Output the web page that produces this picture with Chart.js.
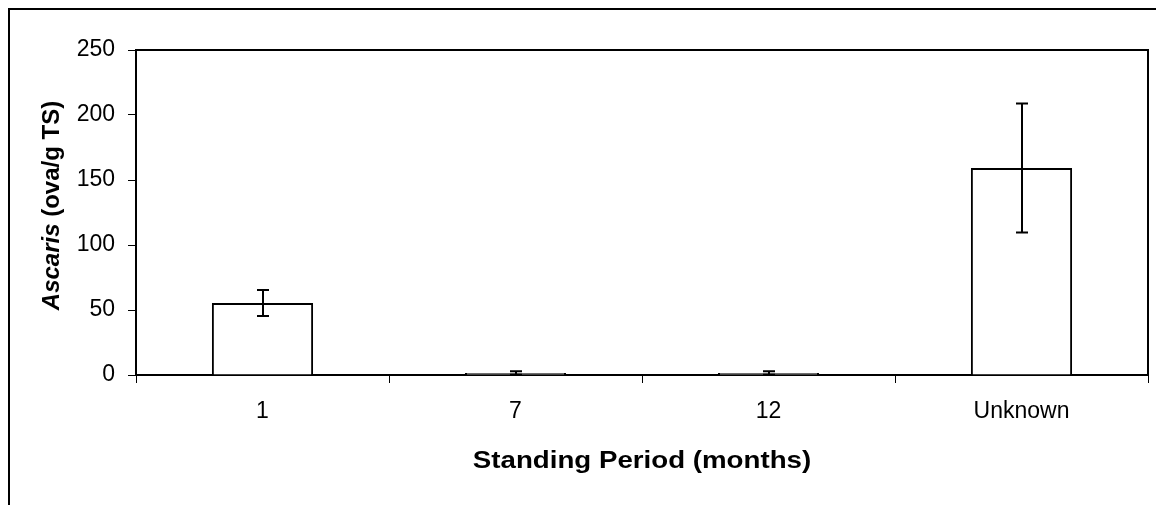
<!DOCTYPE html>
<html>
<head>
<meta charset="utf-8">
<title>Ascaris - Standing Period</title>
<script src="https://cdn.jsdelivr.net/npm/chart.js@4/dist/chart.umd.min.js"></script>
<style>
    html, body { margin: 0; padding: 0; background: #fff; }
    #wrap { width: 1156px; height: 505px; position: relative; }
</style>
</head>
<body>
<div id="wrap"><canvas id="ascarisChart" width="1156" height="505"></canvas></div>
<script>
// Data
const categories = ['1', '7', '12', 'Unknown'];
const ascarisMean = [55.4, 1.5, 1.5, 159.2];
const ascarisErr = [10, 1.3, 1.3, 49.6];
const yTicks = [0, 50, 100, 150, 200, 250];
const xTitle = 'Standing Period (months)';

const FONT = "Arial, 'Liberation Sans', sans-serif";

// outer frame + top/right border of the plot area
const framePlugin = {
    id: 'frame',
    beforeDraw: function(chart) {
        const ctx = chart.ctx;
        ctx.save();
        ctx.strokeStyle = '#000';
        ctx.lineWidth = 2;
        ctx.strokeRect(9, 9, 2000, 2000);
        ctx.restore();
    },
    afterDraw: function(chart) {
        const a = chart.chartArea;
        const ctx = chart.ctx;
        ctx.save();
        ctx.strokeStyle = '#000';
        ctx.lineWidth = 2;
        ctx.beginPath();
        ctx.moveTo(a.left, a.top);
        ctx.lineTo(a.right, a.top);
        ctx.lineTo(a.right, a.bottom);
        ctx.stroke();
        ctx.restore();
    }
};

// error bars drawn from ascarisErr
const errorBarPlugin = {
    id: 'errorBars',
    afterDatasetsDraw: function(chart) {
        const ctx = chart.ctx;
        const meta = chart.getDatasetMeta(0);
        const y = chart.scales.y;
        ctx.save();
        ctx.strokeStyle = '#000';
        ctx.lineWidth = 2;
        meta.data.forEach(function(bar, i) {
            const x = Math.round(bar.x);
            const top = y.getPixelForValue(ascarisMean[i] + ascarisErr[i]);
            const bot = y.getPixelForValue(Math.max(0, ascarisMean[i] - ascarisErr[i]));
            ctx.beginPath();
            ctx.moveTo(x, top); ctx.lineTo(x, bot);
            ctx.moveTo(x - 6, top); ctx.lineTo(x + 6, top);
            ctx.moveTo(x - 6, bot); ctx.lineTo(x + 6, bot);
            ctx.stroke();
        });
        ctx.restore();
    }
};

// axis titles: italic genus name on y, slightly wide lettering on x
const axisTitlePlugin = {
    id: 'axisTitles',
    afterDraw: function(chart) {
        const ctx = chart.ctx;
        const a = chart.chartArea;
        const part1 = 'Ascaris';
        const part2 = ' (ova/g TS)';
        ctx.save();
        ctx.translate(52, (a.top + a.bottom) / 2 - 7);
        ctx.rotate(-Math.PI / 2);
        ctx.fillStyle = '#000';
        ctx.textBaseline = 'middle';
        ctx.font = 'italic bold 24px ' + FONT;
        const w1 = ctx.measureText(part1).width;
        ctx.font = 'bold 24px ' + FONT;
        const w2 = ctx.measureText(part2).width;
        let x = -(w1 + w2) / 2;
        ctx.textAlign = 'left';
        ctx.font = 'italic bold 24px ' + FONT;
        ctx.fillText(part1, x, 0);
        ctx.font = 'bold 24px ' + FONT;
        ctx.fillText(part2, x + w1, 0);
        ctx.restore();

        ctx.save();
        ctx.translate((a.left + a.right) / 2, 461);
        ctx.scale(1.13, 1);
        ctx.fillStyle = '#000';
        ctx.textAlign = 'center';
        ctx.textBaseline = 'middle';
        ctx.font = 'bold 24.5px ' + FONT;
        ctx.fillText(xTitle, 0, 0);
        ctx.restore();
    }
};

new Chart(document.getElementById('ascarisChart'), {
    type: 'bar',
    data: {
        labels: categories,
        datasets: [{
            label: 'Ascaris',
            data: ascarisMean,
            backgroundColor: '#fff',
            borderColor: '#000',
            borderWidth: 2,
            barPercentage: 0.4,
            categoryPercentage: 1.0
        }]
    },
    options: {
        responsive: false,
        animation: false,
        layout: { padding: { top: 50, right: 8, left: 0, bottom: 0 } },
        plugins: {
            legend: { display: false },
            tooltip: { enabled: false }
        },
        scales: {
            x: {
                afterFit: function(scale) { scale.height = 130; },
                grid: {
                    offset: true,
                    drawOnChartArea: false,
                    drawTicks: true,
                    tickLength: 8,
                    color: '#000',
                    lineWidth: 1
                },
                border: { color: '#000', width: 2 },
                ticks: {
                    color: '#000',
                    padding: 15,
                    font: { family: FONT, size: 23 }
                }
            },
            y: {
                min: yTicks[0],
                max: yTicks[yTicks.length - 1],
                afterFit: function(scale) { scale.width = 136; },
                afterBuildTicks: function(scale) {
                    scale.ticks = yTicks.map(function(v) { return { value: v }; });
                },
                grid: {
                    drawOnChartArea: false,
                    drawTicks: true,
                    tickLength: 8,
                    color: '#000',
                    lineWidth: 1
                },
                border: { color: '#000', width: 2 },
                ticks: {
                    color: '#000',
                    padding: 13,
                    font: { family: FONT, size: 23 }
                }
            }
        }
    },
    plugins: [framePlugin, errorBarPlugin, axisTitlePlugin]
});
</script>
</body>
</html>
